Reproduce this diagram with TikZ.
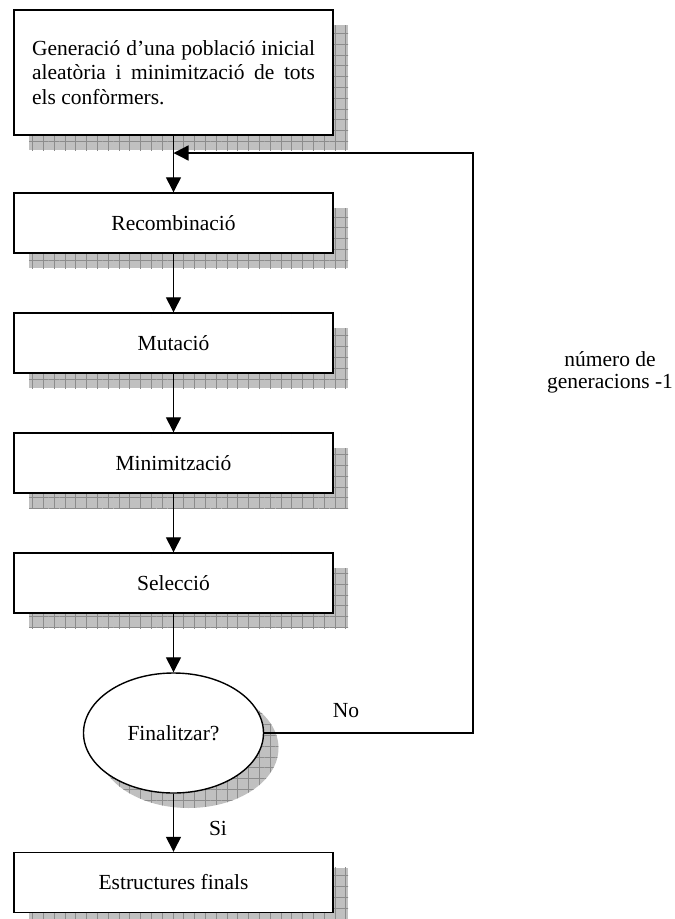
\documentclass[tikz,border=0pt]{standalone}
\usepackage{fontspec}
\setmainfont{Liberation Serif}
\usetikzlibrary{arrows.meta,shapes.geometric,patterns.meta}
\definecolor{shadowgray}{RGB}{192,192,192}
\definecolor{gridgray}{RGB}{140,140,140}
\tikzset{
  gridshadow/.style={
    preaction={draw=none, fill=shadowgray, transform canvas={shift={(15pt,-15pt)}}},
    preaction={draw=none, pattern={Hatch[angle=0,distance=10.8pt,line width=0.6pt]}, pattern color=gridgray, transform canvas={shift={(15pt,-15pt)}}}},
  stepbox/.style={draw, line width=1.4pt, fill=white, minimum width=319pt, minimum height=60pt, inner sep=0pt, gridshadow},
  decision/.style={ellipse, draw, line width=1.4pt, fill=white, minimum width=180pt, minimum height=120pt, inner sep=0pt, gridshadow},
  arr/.style={-{Triangle[length=15pt,width=15pt]}, line width=1.3pt}
}
\begin{document}
\begin{tikzpicture}[x=1pt, y=-1pt, font=\fontsize{21.5}{24.5}\selectfont]
      \useasboundingbox (0,0) rectangle (675,919);
      \node[stepbox, minimum height=125pt, text width=283pt, align=justify] (gen) at (173.5,72.5) {Generació d’una població inicial\linebreak aleatòria i minimització de tots\linebreak els confòrmers.};
      \node[stepbox] (rec) at (173.5,223) {Recombinació};
      \node[stepbox] (mut) at (173.5,343) {Mutació};
      \node[stepbox] (min) at (173.5,463) {Minimització};
      \node[stepbox] (sel) at (173.5,583) {Selecció};
      \node[decision] (fin) at (173.5,733) {Finalitzar?};
      \node[stepbox] (est) at (173.5,882.5) {Estructures finals};
      \coordinate (join) at (173.5,153);
      \coordinate (corner) at (473,153);
      \draw[arr] (gen) -- (rec);
      \draw[arr] (rec) -- (mut);
      \draw[arr] (mut) -- (min);
      \draw[arr] (min) -- (sel);
      \draw[arr] (sel) -- (fin);
      \draw[arr] (fin) -- (est);
      \draw[arr] (fin.east) -| (corner) -- (join);
      \node (no) at (346,711) {No};
      \node (si) at (218,828) {Si};
      \node[align=center, font=\fontsize{21.5}{22}\selectfont] (iter) at (610,372) {número de\\generacions -1};
    \end{tikzpicture}
\end{document}
